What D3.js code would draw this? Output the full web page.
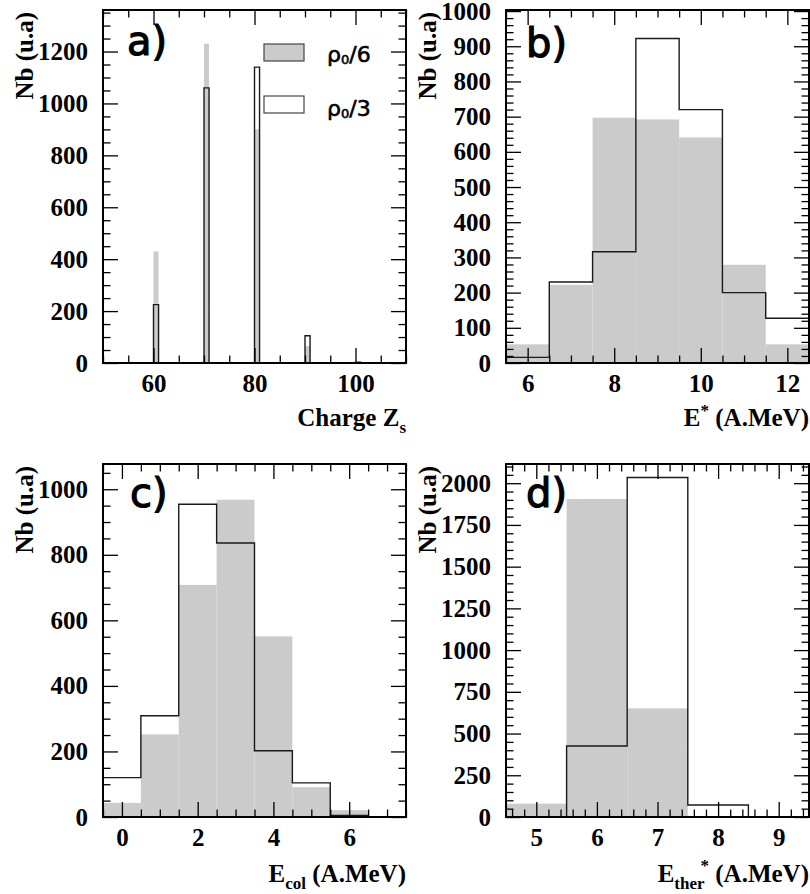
<!DOCTYPE html>
<html><head><meta charset="utf-8">
<script src="https://cdn.jsdelivr.net/npm/d3@7"></script>
<style>body{margin:0;background:#fff}svg{display:block}</style>
</head><body>
<svg id="c" width="810" height="894"></svg>
<script>
// ---------- DATA ----------
// panel a: charge Z_s, bins of width 1 (lower edges)
const zBinLow = [60, 70, 80, 90, 100];
const zRho6 = [430, 1230, 900, 65, 0];
const zRho3 = [225, 1060, 1140, 105, 3];
// panel b: E* (A.MeV), bins of width 1 (lower edges)
const eBinLow = [5.5, 6.5, 7.5, 8.5, 9.5, 10.5, 11.5];
const eRho6 = [53, 222, 697, 692, 641, 279, 53];
const eRho3 = [16, 230, 316, 922, 720, 200, 127];
// panel c: E_col (A.MeV)
const cBinLow = [-0.5, 0.5, 1.5, 2.5, 3.5, 4.5, 5.5, 6.5];
const cRho6 = [43, 252, 708, 968, 551, 91, 21, 0];
const cRho3 = [120, 309, 954, 836, 202, 104, 5, 0];
// panel d: E_ther* (A.MeV)
const tBinLow = [4.5, 5.5, 6.5, 7.5, 8.5];
const tRho6 = [80, 1905, 651, 0, 0];
const tRho3 = [0, 425, 2034, 72, 0];
// legend
const legendLabels = ["6", "3"];

// ---------- LAYOUT ----------
const svg = d3.select("#c");
const SERIF = "'Liberation Serif','Times New Roman',serif";
const SANS = "'DejaVu Sans',sans-serif";

const panels = [
  {label:"a", lx:127, ly:55, box:[103,406,10,363], xdom:[50,110], ydom:[0,1360],
   xMaj:20, xMin:5, yMaj:200, yMin:50, bins:zBinLow, w:1, gray:zRho6, line:zRho3,
   title:"charge"},
  {label:"b", lx:526, ly:57, box:[506,809,10,363], xdom:[5.5,12.5], ydom:[0,1003],
   xMaj:2, xMin:0.5, yMaj:100, yMin:20, bins:eBinLow, w:1, gray:eRho6, line:eRho3,
   title:"estar"},
  {label:"c", lx:130, ly:507, box:[103,406,464,817], xdom:[-0.5,7.5], ydom:[0,1077],
   xMaj:2, xMin:0.5, yMaj:200, yMin:50, bins:cBinLow, w:1, gray:cRho6, line:cRho3,
   title:"ecol"},
  {label:"d", lx:526, ly:507, box:[506,809,464,817], xdom:[4.5,9.5], ydom:[0,2115],
   xMaj:1, xMin:0.2, yMaj:250, yMin:50, bins:tBinLow, w:1, gray:tRho6, line:tRho3,
   title:"ether"}
];

function rng(lo, hi, step){ // tick positions within [lo,hi]
  const out=[];
  const start=Math.ceil(lo/step-1e-9);
  for(let k=start; k*step<=hi+1e-9; k++) out.push(+(k*step).toFixed(6));
  return out;
}

panels.forEach(p=>{
  const [X0,X1,Y0,Y1]=p.box;
  const x=d3.scaleLinear().domain(p.xdom).range([X0,X1]);
  const y=d3.scaleLinear().domain(p.ydom).range([Y1,Y0]);
  const g=svg.append("g");

  // gray histogram (rho0/6)
  g.selectAll("rect.gray").data(p.bins).join("rect")
    .attr("x",(d)=>x(d)).attr("width",(d)=>x(d+p.w)-x(d))
    .attr("y",(d,i)=>y(p.gray[i])).attr("height",(d,i)=>y(0)-y(p.gray[i]))
    .attr("fill","#cbcbcb");

  // outline histogram (rho0/3) as step path
  const path=d3.path();
  path.moveTo(x(p.xdom[0]),y(0));
  let prevHi=null;
  p.bins.forEach((lo,i)=>{
    const hi=lo+p.w, v=p.line[i];
    if(prevHi===null || Math.abs(prevHi-lo)>1e-9){
      if(prevHi!==null) path.lineTo(x(prevHi),y(0));
      path.lineTo(x(lo),y(0));
    }
    path.lineTo(x(lo),y(v));
    path.lineTo(x(hi),y(v));
    prevHi=hi;
  });
  path.lineTo(x(prevHi),y(0));
  path.lineTo(x(p.xdom[1]),y(0));
  g.append("path").attr("d",path.toString()).attr("fill","none")
    .attr("stroke","#1a1a1a").attr("stroke-width",1.4);

  // axes
  const xMajor=rng(p.xdom[0],p.xdom[1],p.xMaj);
  const xMinor=rng(p.xdom[0],p.xdom[1],p.xMin).filter(v=>!xMajor.some(m=>Math.abs(m-v)<1e-6));
  const yMajor=rng(p.ydom[0],p.ydom[1],p.yMaj);
  const yMinor=rng(p.ydom[0],p.ydom[1],p.yMin).filter(v=>!yMajor.some(m=>Math.abs(m-v)<1e-6));

  const styleAxis=(sel)=>{
    sel.select(".domain").remove();
    sel.selectAll("line").attr("stroke","#000").attr("stroke-width",1.3);
    sel.attr("font-family",SERIF).attr("font-size",25).attr("font-weight","bold");
    sel.selectAll("text").attr("fill","#000");
  };
  g.append("g").attr("transform",`translate(0,${Y1})`)
    .call(d3.axisBottom(x).tickValues(xMajor).tickSize(-15).tickPadding(11).tickFormat(d3.format("d"))).call(styleAxis);
  g.append("g").attr("transform",`translate(0,${Y1})`)
    .call(d3.axisBottom(x).tickValues(xMinor).tickSize(-7.5).tickFormat("")).call(styleAxis);
  g.append("g").attr("transform",`translate(0,${Y0})`)
    .call(d3.axisTop(x).tickValues(xMajor).tickSize(-15).tickFormat("")).call(styleAxis);
  g.append("g").attr("transform",`translate(0,${Y0})`)
    .call(d3.axisTop(x).tickValues(xMinor).tickSize(-7.5).tickFormat("")).call(styleAxis);
  g.append("g").attr("transform",`translate(${X0},0)`)
    .call(d3.axisLeft(y).tickValues(yMajor).tickSize(-15).tickPadding(15).tickFormat(d3.format("d"))).call(styleAxis);
  g.append("g").attr("transform",`translate(${X0},0)`)
    .call(d3.axisLeft(y).tickValues(yMinor).tickSize(-7.5).tickFormat("")).call(styleAxis);
  g.append("g").attr("transform",`translate(${X1},0)`)
    .call(d3.axisRight(y).tickValues(yMajor).tickSize(-15).tickFormat("")).call(styleAxis);
  g.append("g").attr("transform",`translate(${X1},0)`)
    .call(d3.axisRight(y).tickValues(yMinor).tickSize(-7.5).tickFormat("")).call(styleAxis);

  // frame
  g.append("rect").attr("x",X0).attr("y",Y0).attr("width",X1-X0).attr("height",Y1-Y0)
    .attr("fill","none").attr("stroke","#000").attr("stroke-width",2);

  // y title
  g.append("text").attr("transform",`translate(${X0-70},${Y0+2}) rotate(-90)`)
    .attr("text-anchor","end").attr("font-family",SERIF).attr("font-weight","bold")
    .attr("font-size",25).text("Nb (u.a)");

  // x title
  const t=g.append("text").attr("x",X1).attr("y",Y1+(Y0<100?63:65)).attr("text-anchor","end")
    .attr("font-family",SERIF).attr("font-weight","bold").attr("font-size",25);
  if(p.title==="charge"){
    t.append("tspan").text("Charge Z");
    t.append("tspan").attr("font-size",17).attr("dy",7).text("s");
  } else if(p.title==="estar"){
    t.append("tspan").text("E");
    t.append("tspan").attr("font-size",17).attr("dy",-10).text("*");
    t.append("tspan").attr("dy",10).text(" (A.MeV)");
  } else if(p.title==="ecol"){
    t.append("tspan").text("E");
    t.append("tspan").attr("font-size",17).attr("dy",7).text("col");
    t.append("tspan").attr("dy",-7).text(" (A.MeV)");
  } else {
    t.append("tspan").text("E");
    t.append("tspan").attr("font-size",17).attr("dy",7).text("ther");
    t.append("tspan").attr("font-size",17).attr("dy",-18).attr("dx",-4).text("*");
    t.append("tspan").attr("dy",11).text(" (A.MeV)");
  }

  // panel label
  g.append("text").attr("x",p.lx).attr("y",p.ly).attr("font-family",SANS)
    .attr("font-size",40).attr("stroke","#000").attr("stroke-width",1.2)
    .text(p.label+")");
});

// legend (panel a)
const lg=svg.append("g");
lg.selectAll("rect").data(legendLabels).join("rect")
  .attr("x",264).attr("y",(d,i)=>44+i*52).attr("width",40).attr("height",17)
  .attr("fill",(d,i)=>i===0?"#cbcbcb":"#fff").attr("stroke","#444").attr("stroke-width",1.2);
lg.selectAll("text").data(legendLabels).join("text")
  .attr("x",327).attr("y",(d,i)=>62+i*54).attr("font-family",SANS).attr("font-size",22)
  .attr("stroke","#000").attr("stroke-width",0.6)
  .each(function(d){
    const s=d3.select(this);
    s.append("tspan").text("ρ");
    s.append("tspan").attr("font-size",13).attr("dy",2).text("0");
    s.append("tspan").attr("dy",-2).text("/"+d);
  });
</script>
</body></html>
